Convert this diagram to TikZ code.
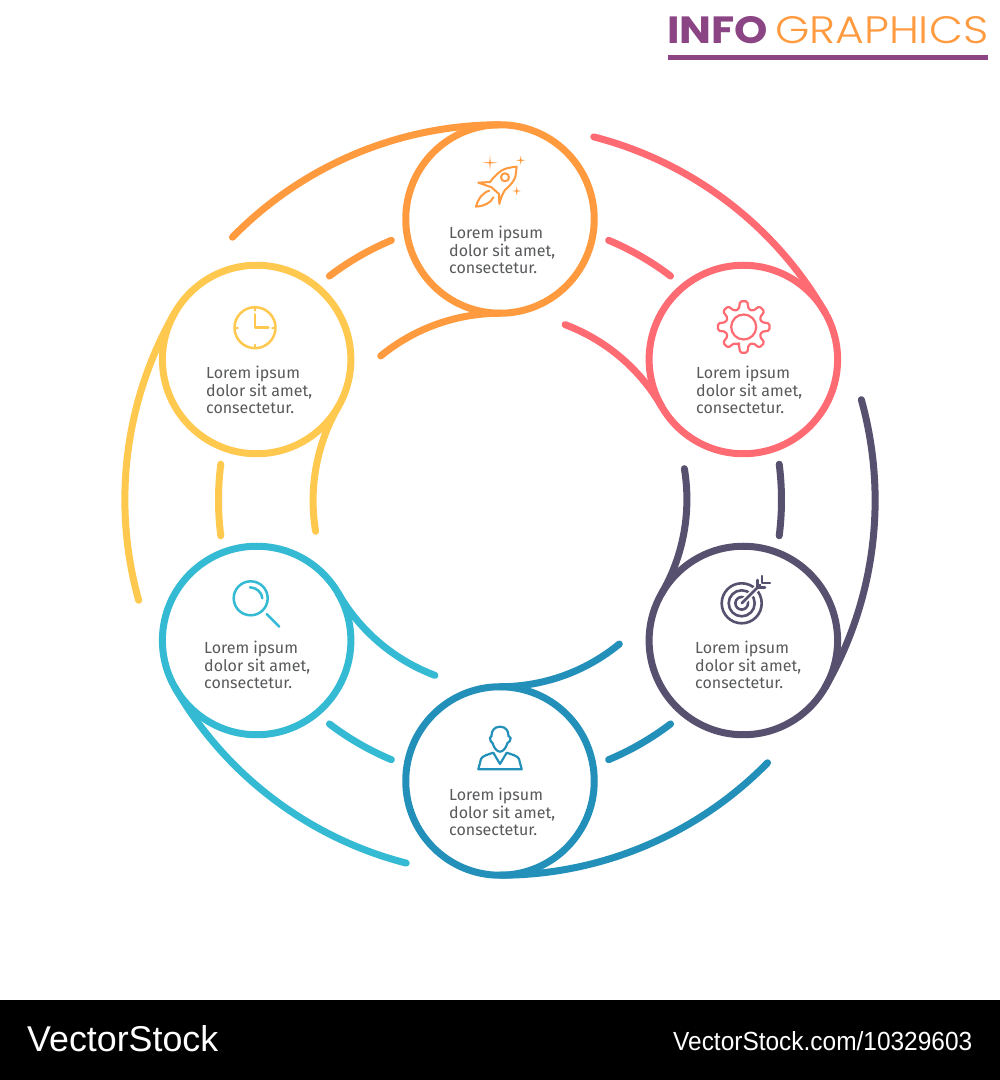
\documentclass[tikz,border=0pt]{standalone}
\usepackage{fontspec}
\usepackage{graphicx}
\setmainfont{Fira Sans}
\newfontfamily\titleb{Poppins}
\newfontfamily\titlel{Poppins Light}
\newfontfamily\footf{Liberation Sans}
\usetikzlibrary{calc}
\definecolor{cOrange}{HTML}{FF9A3F}
\definecolor{cRed}{HTML}{FF6B73}
\definecolor{cNavy}{HTML}{57506F}
\definecolor{cBlue}{HTML}{2390BA}
\definecolor{cCyan}{HTML}{35BAD3}
\definecolor{cYellow}{HTML}{FFC84F}
\definecolor{cPlum}{HTML}{8B4585}
\definecolor{cText}{HTML}{58595B}
\tikzset{
  x=1pt,y=1pt,
  ring/.style={circle,draw=#1,line width=7pt,minimum size=188.5pt,inner sep=0pt,outer sep=0pt},
  arcline/.style={draw=#1,line width=7pt,line cap=round},
  lbl/.style={anchor=base west,align=left,text=cText,inner sep=0pt,font=\fontsize{16}{17.5}\selectfont},
  icon/.style={draw=#1,line width=2.2pt,line cap=round,line join=round},
  flip/.style={yshift=1080pt,y=-1pt},
}
\newcommand{\sparkle}[4]{\fill[#1] (#2-#4,#3) -- (#2-0.7,#3-0.7) -- (#2,#3-#4) -- (#2+0.7,#3-0.7) -- (#2+#4,#3) -- (#2+0.7,#3+0.7) -- (#2,#3+#4) -- (#2-0.7,#3+0.7) -- cycle;}
\begin{document}
\begin{tikzpicture}
\useasboundingbox (0,0) rectangle (1000,1080);
\fill[white] (0,0) rectangle (1000,1080);
\fill[black] (0,0) rectangle (1000,80);
\coordinate (C) at (500,580);
% rings
\node[ring=cOrange] (orange) at ($(C)+(90:281)$) {};
\node[ring=cRed] (red) at ($(C)+(30:281)$) {};
\node[ring=cNavy] (navy) at ($(C)+(-30:281)$) {};
\node[ring=cBlue] (blue) at ($(C)+(-90:281)$) {};
\node[ring=cCyan] (cyan) at ($(C)+(-150:281)$) {};
\node[ring=cYellow] (yellow) at ($(C)+(150:281)$) {};
% outer and inner arcs
\foreach \n/\c/\a in {orange/cOrange/90,red/cRed/30,navy/cNavy/-30,blue/cBlue/-90,cyan/cCyan/-150,yellow/cYellow/150}{
  \path[arcline=\c] (\n.\a) arc[start angle=\a,delta angle=45.6,radius=374.5pt];
  \pgfmathsetmacro{\b}{\a+180}
  \path[arcline=\c] (\n.\b) arc[start angle=\a,delta angle=39.4,radius=188pt];
}
% short links
\foreach \c/\a in {cRed/60,cOrange/120,cYellow/180,cCyan/240,cBlue/300,cNavy/0}{
  \pgfmathsetmacro{\s}{\a-7.3}
  \path[arcline=\c] ($(C)+(\s:281.5)$) arc[start angle=\s,delta angle=14.6,radius=281.5pt];
}
% texts
\node[lbl] (tOrange) at (449,806) {Lorem ipsum\\dolor sit amet,\\consectetur.};
\node[lbl] (tRed) at (696,666) {Lorem ipsum\\dolor sit amet,\\consectetur.};
\node[lbl] (tNavy) at (695,391) {Lorem ipsum\\dolor sit amet,\\consectetur.};
\node[lbl] (tBlue) at (449,244) {Lorem ipsum\\dolor sit amet,\\consectetur.};
\node[lbl] (tCyan) at (204,391) {Lorem ipsum\\dolor sit amet,\\consectetur.};
\node[lbl] (tYellow) at (206,666) {Lorem ipsum\\dolor sit amet,\\consectetur.};
% icons (screen coordinates)
\begin{scope}[flip]
  % rocket
  \draw[icon=cOrange,line width=2pt] (516.7,166.7) .. controls (508,167.5) and (503,169) .. (499.5,172) .. controls (496,175) and (493,178) .. (490,182) -- (478.3,182.7) -- (491.5,187.3) -- (499,194) -- (499.3,204) .. controls (501,197) and (503,193) .. (505,190) .. controls (510,186) and (515,180) .. (515.5,176) -- cycle;
  \draw[icon=cOrange,line width=2pt] (505,177.3) circle[radius=4pt];
  \draw[icon=cOrange,line width=2pt] (489.3,190.7) .. controls (482,193) and (478,199) .. (476,206.7) .. controls (484,206) and (491,203) .. (493.3,197.3);
  \sparkle{cOrange}{490}{162.7}{7.5}
  \sparkle{cOrange}{520.7}{160.3}{4.5}
  \sparkle{cOrange}{516.7}{191}{4.5}
  % gear
  \draw[icon=cRed,rounded corners=1.6pt] ($(743.7,327)+(105:18.5)$)
    \foreach \a in {90,45,0,-45,-90,-135,180,135}{
      -- ($(743.7,327)+(\a+15:18.5)$) -- ($(743.7,327)+(\a+8:26)$) -- ($(743.7,327)+(\a-8:26)$) -- ($(743.7,327)+(\a-15:18.5)$)
    } -- cycle;
  \draw[icon=cRed] (743.7,327) circle[radius=12.5pt];
  % target
  \draw[icon=cNavy,line width=2.6pt] (741.7,603.3) circle[radius=20pt];
  \draw[icon=cNavy,line width=2.6pt] (741.7,603.3) circle[radius=13pt];
  \draw[icon=cNavy,line width=2.6pt] (741.7,603.3) circle[radius=6.3pt];
  \draw[white,line width=6pt] (744,601) -- (764,581);
  \draw[icon=cNavy,line width=2.6pt] (741.7,603.3) -- (760,585);
  \draw[icon=cNavy,line width=2.6pt] (757.5,580) -- (757.5,587.5) -- (765,587.5);
  \draw[icon=cNavy,line width=2.6pt] (762,576) -- (762,583) -- (770,583);
  % person
  \draw[icon=cBlue] (500,726.7) .. controls (494,726.7) and (491.5,731) .. (491.5,736) -- (490,738) .. controls (490,741) and (491,742) .. (492.5,743) .. controls (494,748) and (497,751.7) .. (500,751.7) .. controls (503,751.7) and (506,748) .. (507.5,743) .. controls (509,742) and (510.7,741) .. (510.7,738) -- (508.5,736) .. controls (508.5,731) and (506,726.7) .. (500,726.7) -- cycle;
  \draw[icon=cBlue] (478.3,769.3) -- (481,759) .. controls (482,756) and (488,754.5) .. (493.3,752.7) -- (500,764) -- (506.7,752.7) .. controls (512,754.5) and (518,756) .. (519,759) -- (521.7,769.3) -- cycle;
  % clock
  \draw[icon=cYellow,line width=2.5pt] (255,327.7) circle[radius=20.5pt];
  \draw[icon=cYellow,line width=2.5pt] (255,314.3) -- (255,327.7) -- (268.3,327.7);
  \foreach \a in {0,90,180,270}{
    \draw[icon=cYellow,line width=1.8pt] ($(255,327.7)+(\a:17)$) -- ($(255,327.7)+(\a:20)$);
  }
  % magnifier
  \draw[icon=cCyan,line width=2.5pt] (250.7,598.3) circle[radius=17pt];
  \draw[icon=cCyan,line width=2.5pt] (250,587.3) .. controls (256.5,587.5) and (262,592.5) .. (262.3,598.3);
  \draw[icon=cCyan,line width=2.5pt] (266.7,614) -- (279.3,626.7);
\end{scope}
% title
\node[anchor=base west,inner sep=0pt,text=cPlum] (info) at (667,1036) {\resizebox{101pt}{27pt}{\titleb\bfseries INFO}};
\node[anchor=base west,inner sep=0pt,text=cOrange] (graphics) at (775,1036) {\resizebox{213pt}{27pt}{\titlel GRAPHICS}};
\fill[cPlum] (667.5,1019.5) rectangle (987.5,1025);
% footer
\node[anchor=base west,inner sep=0pt,text=white] (vs) at (27,28) {\resizebox{191pt}{26pt}{\footf VectorStock}};
\node[anchor=base west,inner sep=0pt,text=white] (url) at (673,29) {\resizebox{299pt}{19pt}{\footf VectorStock.com/10329603}};
\end{tikzpicture}
\end{document}
